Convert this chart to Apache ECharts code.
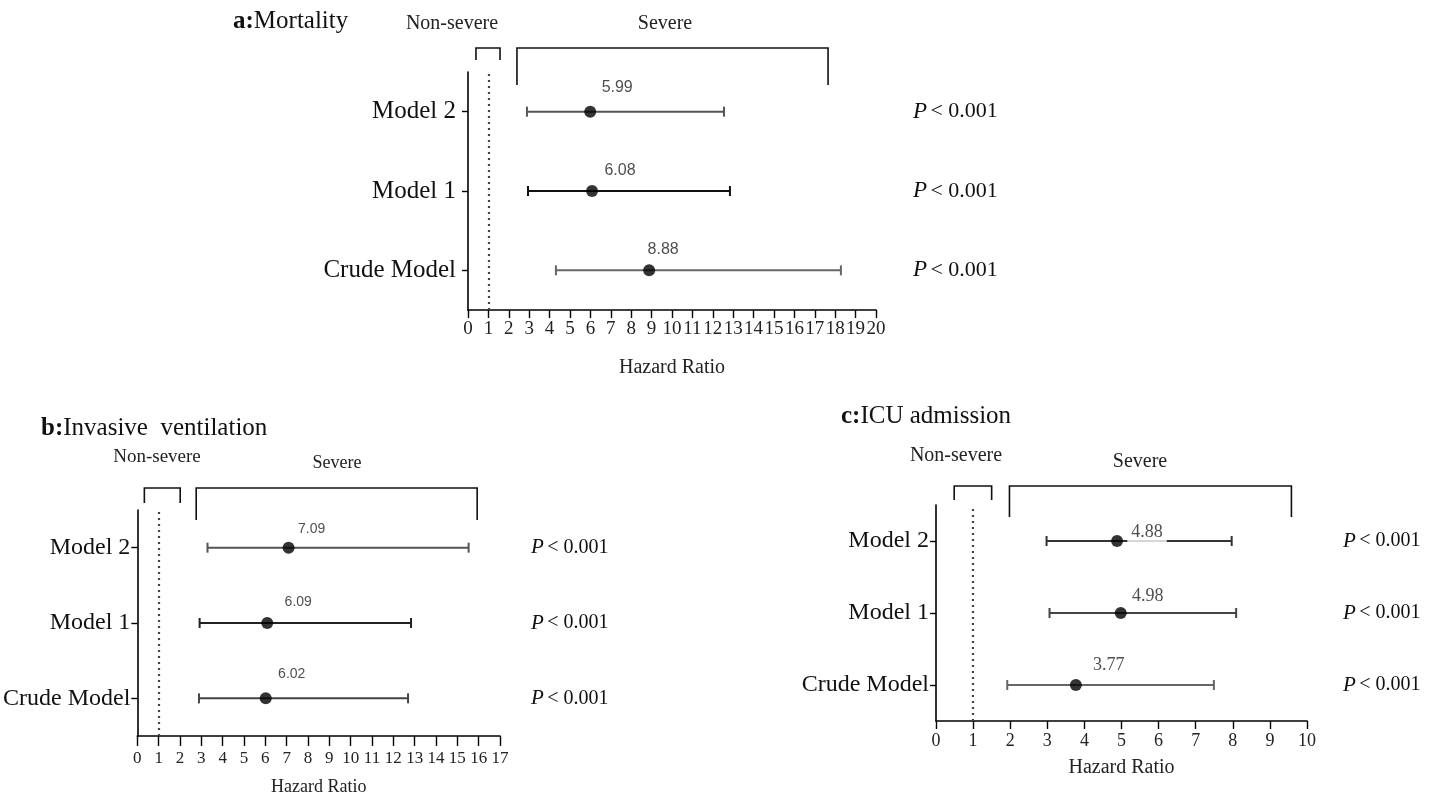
<!DOCTYPE html>
<html><head><meta charset="utf-8">
<script src="https://cdn.jsdelivr.net/npm/echarts@6/dist/echarts.min.js"></script>
<style>html,body{margin:0;padding:0;background:#fff}#c{width:1430px;height:801px}</style>
</head><body><div id="c"></div>
<script>
// ---- data ----
const categories = ['Crude Model', 'Model 1', 'Model 2'];

// a: Mortality
const hrA = [8.88, 6.08, 5.99];
const loA = [4.31, 2.94, 2.89];
const hiA = [18.28, 12.84, 12.55];
const pA = ['< 0.001', '< 0.001', '< 0.001'];
const bracketsA = [[0.39, 1.57], [2.4, 17.65]];

// b: Invasive ventilation
const hrB = [6.02, 6.09, 7.09];
const loB = [2.89, 2.92, 3.29];
const hiB = [12.69, 12.83, 15.53];
const pB = ['< 0.001', '< 0.001', '< 0.001'];
const bracketsB = [[0.33, 2.01], [2.76, 15.93]];

// c: ICU admission
const hrC = [3.77, 4.98, 4.88];
const loC = [1.92, 3.06, 2.98];
const hiC = [7.49, 8.09, 7.97];
const pC = ['< 0.001', '< 0.001', '< 0.001'];
const bracketsC = [[0.49, 1.50], [1.98, 9.58]];

const refLine = 1;
const bracketNames = ['Non-severe', 'Severe'];

// ---- styling ----
const SERIF = "'Liberation Serif','Times New Roman',serif";
const SANS = "'Liberation Sans',Arial,sans-serif";

const panels = [
  { hr: hrA, lo: loA, hi: hiA, p: pA, br: bracketsA, max: 20,
    grid: { left: 468, top: 72, width: 408, height: 238 },
    tickFont: 19, tickMargin: 10, tickLen: 8, nameFont: 20, nameGap: 48,
    catFont: 25, catMargin: 12, pFont: 22, pMargin: 37,
    lblFont: 16, lblFamily: SANS, lblOffsets: [[14, 5], [28, 6], [27, 2]],
    barColors: ['#666', '#111', '#555'],
    brTop: 24, brLegs: [12, 37] },
  { hr: hrB, lo: loB, hi: hiB, p: pB, br: bracketsB, max: 17,
    grid: { left: 137, top: 510, width: 363, height: 226 },
    tickFont: 17, tickMargin: 14, tickLen: 10, nameFont: 18, nameGap: 42,
    catFont: 24, catMargin: 7, pFont: 20, pMargin: 31,
    lblFont: 14, lblFamily: SANS, lblOffsets: [[26, 1], [31, 4], [23, 6]],
    barColors: ['#444', '#222', '#555'],
    brTop: 22, brLegs: [15, 32] },
  { hr: hrC, lo: loC, hi: hiC, p: pC, br: bracketsC, max: 10,
    grid: { left: 936, top: 505, width: 371, height: 216 },
    tickFont: 18, tickMargin: 11, tickLen: 8, nameFont: 20, nameGap: 37,
    catFont: 24, catMargin: 7, pFont: 20, pMargin: 36,
    lblFont: 18, lblFamily: SERIF, lblOffsets: [[33, 10], [27, 13], [30, 21]],
    barColors: ['#666', '#444', '#333'], lblBg: true,
    brTop: 19, brLegs: [14, 31] }
];

const grids = [], xAxes = [], yAxes = [], series = [];
panels.forEach((P, k) => {
  grids.push(Object.assign({ containLabel: false }, P.grid));
  xAxes.push({
    type: 'value', gridIndex: k, min: 0, max: P.max, interval: 1,
    axisLine: { show: true, lineStyle: { color: '#000', width: 1.6 } },
    axisTick: { show: true, length: P.tickLen, lineStyle: { color: '#000', width: 1.4 } },
    axisLabel: { fontFamily: SERIF, fontSize: P.tickFont, color: '#222', margin: P.tickMargin },
    splitLine: { show: false },
    name: 'Hazard Ratio', nameLocation: 'middle', nameGap: P.nameGap,
    nameTextStyle: { fontFamily: SERIF, fontSize: P.nameFont, color: '#222' }
  });
  yAxes.push({
    type: 'category', gridIndex: k, data: categories,
    axisLine: { show: true, lineStyle: { color: '#000', width: 1.6 } },
    axisTick: { show: true, alignWithLabel: true, length: 6, lineStyle: { color: '#000', width: 1.4 } },
    axisLabel: { fontFamily: SERIF, fontSize: P.catFont, color: '#111', margin: P.catMargin },
    splitLine: { show: false }
  });
  yAxes.push({
    type: 'category', gridIndex: k, data: categories, position: 'right',
    axisLine: { show: false }, axisTick: { show: false }, splitLine: { show: false },
    axisLabel: {
      margin: P.pMargin,
      formatter: (v, i) => '{i|P} {n|' + P.p[i] + '}',
      rich: {
        i: { fontFamily: SERIF, fontStyle: 'italic', fontSize: P.pFont + 1, color: '#111' },
        n: { fontFamily: SERIF, fontSize: P.pFont, color: '#111' }
      }
    }
  });
  const yi = k * 2;
  // error bars
  series.push({
    type: 'custom', xAxisIndex: k, yAxisIndex: yi, silent: true,
    encode: { x: [0, 1], y: 2 },
    data: categories.map((c, i) => [P.lo[i], P.hi[i], i]),
    renderItem: (params, api) => {
      const i = api.value(2);
      const a = api.coord([api.value(0), i]);
      const b = api.coord([api.value(1), i]);
      const col = P.barColors[i];
      const st = { stroke: col, lineWidth: 2 };
      return { type: 'group', children: [
        { type: 'line', shape: { x1: a[0], y1: a[1], x2: b[0], y2: b[1] }, style: st },
        { type: 'line', shape: { x1: a[0], y1: a[1] - 5, x2: a[0], y2: a[1] + 5 }, style: st },
        { type: 'line', shape: { x1: b[0], y1: b[1] - 5, x2: b[0], y2: b[1] + 5 }, style: st }
      ]};
    }
  });
  // points + labels + reference line
  series.push({
    type: 'scatter', xAxisIndex: k, yAxisIndex: yi, silent: true, z: 3,
    symbol: 'circle', symbolSize: 12, itemStyle: { color: '#000' },
    data: categories.map((c, i) => ({
      value: [P.hr[i], i],
      label: { offset: P.lblOffsets[i] }
    })),
    label: {
      show: true, position: 'top', distance: 12,
      formatter: p => p.value[0].toFixed(2),
      fontFamily: P.lblFamily, fontSize: P.lblFont, color: '#222',
      backgroundColor: P.lblBg ? '#fff' : 'transparent', padding: P.lblBg ? [0, 4, 3, 4] : 0
    },
    markLine: {
      silent: true, symbol: 'none', label: { show: false },
      lineStyle: { type: [2, 4], color: '#444', width: 2.2 },
      data: [{ xAxis: refLine }]
    }
  });
  // brackets
  series.push({
    type: 'custom', xAxisIndex: k, yAxisIndex: yi, silent: true, clip: false,
    encode: { x: [0, 1], y: 2 },
    data: P.br.map((b, j) => [b[0], b[1], 0, j]),
    renderItem: (params, api) => {
      const j = api.value(3);
      const x0 = api.coord([api.value(0), 0])[0];
      const x1 = api.coord([api.value(1), 0])[0];
      const top = params.coordSys.y - P.brTop;
      const leg = P.brLegs[j];
      return {
        type: 'polyline',
        shape: { points: [[x0, top + leg], [x0, top], [x1, top], [x1, top + leg]] },
        style: { stroke: '#111', lineWidth: 1.6, fill: null }
      };
    }
  });
});

const titleRich = (sz) => ({
  b: { fontFamily: SERIF, fontWeight: 'bold', fontSize: sz, color: '#111' },
  n: { fontFamily: SERIF, fontWeight: 'normal', fontSize: sz, color: '#111' }
});
const titles = [
  { text: '{b|a:}{n|Mortality}', left: 228, top: 4, textStyle: { fontWeight: 'normal', rich: titleRich(25) } },
  { text: '{b|b:}{n|Invasive  ventilation}', left: 36, top: 411, textStyle: { fontWeight: 'normal', rich: titleRich(25) } },
  { text: '{b|c:}{n|ICU admission}', left: 836, top: 399, textStyle: { fontWeight: 'normal', rich: titleRich(25) } }
];

const txt = (s, x, y, sz) => ({
  type: 'text', x: x, y: y, silent: true,
  style: { text: s, font: sz + 'px ' + SERIF, fill: '#222', align: 'center', verticalAlign: 'middle' }
});

const chart = echarts.init(document.getElementById('c'));
chart.setOption({
  animation: false,
  backgroundColor: '#fff',
  title: titles,
  grid: grids, xAxis: xAxes, yAxis: yAxes, series: series,
  graphic: [
    txt(bracketNames[0], 452, 24, 20), txt(bracketNames[1], 665, 24, 20),
    txt(bracketNames[0], 157, 457, 19), txt(bracketNames[1], 337, 463, 18),
    txt(bracketNames[0], 956, 456, 20), txt(bracketNames[1], 1140, 462, 20)
  ]
});
</script>
</body></html>
